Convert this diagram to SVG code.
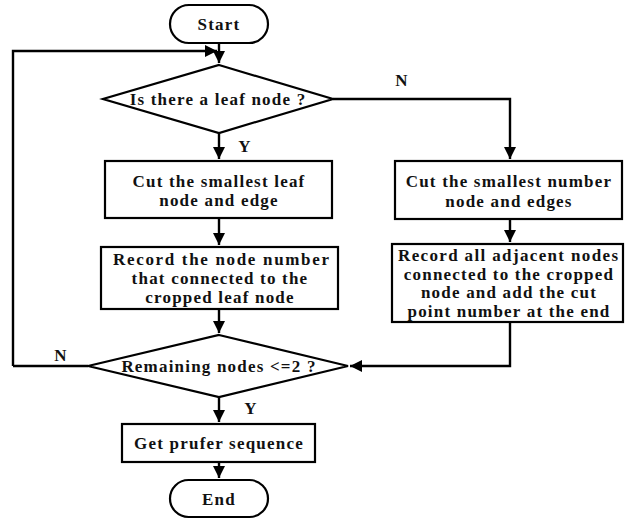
<svg xmlns="http://www.w3.org/2000/svg" width="625" height="520" viewBox="0 0 625 520">
<style>
.s{fill:#fff;stroke:#000;stroke-width:2.2}
.c{fill:none;stroke:#000;stroke-width:2.4}
text{font-family:"Liberation Serif","Times New Roman",serif;font-weight:bold;font-size:17px;letter-spacing:1.2px;fill:#111;text-anchor:middle}
text.j{letter-spacing:0}
</style>
<defs>
<marker id="a" viewBox="0 0 10 10" refX="10" refY="5" markerWidth="5" markerHeight="5" orient="auto" markerUnits="strokeWidth">
<path d="M0,0 L10,5 L0,10 Z" fill="#000"/>
</marker>
</defs>
<rect width="625" height="520" fill="#fff"/>
<g id="connectors">
<path class="c" d="M219,43 V63" marker-end="url(#a)"/>
<path class="c" d="M13,366 V51 H217" marker-end="url(#a)"/>
<path class="c" d="M219,133 V159" marker-end="url(#a)"/>
<path class="c" d="M333,99 H510 V159" marker-end="url(#a)"/>
<path class="c" d="M219,218 V245" marker-end="url(#a)"/>
<path class="c" d="M510,219 V242" marker-end="url(#a)"/>
<path class="c" d="M219,309 V333" marker-end="url(#a)"/>
<path class="c" d="M510,322 V366 H350" marker-end="url(#a)"/>
<path class="c" d="M88,366 H13"/>
<path class="c" d="M219,397 V422" marker-end="url(#a)"/>
<path class="c" d="M219,462 V478" marker-end="url(#a)"/>
<text x="245" y="152">Y</text>
<text x="402" y="86">N</text>
<text x="61" y="361">N</text>
<text x="251" y="414">Y</text>
</g>
<g id="start">
<rect class="s" x="170" y="5" width="98" height="38" rx="19"/>
<text x="219" y="30">Start</text>
</g>
<g id="d1">
<polygon class="s" points="219,65 333,99 219,133 103,99"/>
<text x="218" y="105">Is there a leaf node ?</text>
</g>
<g id="b1">
<rect class="s" x="105" y="161" width="227" height="57"/>
<text x="219" y="187">Cut the smallest leaf</text>
<text x="219" y="206">node and edge</text>
</g>
<g id="b2">
<rect class="s" x="101" y="247" width="237" height="62"/>
<text class="j" x="221" y="265" textLength="216" lengthAdjust="spacing">Record the node number</text>
<text x="220" y="284">that connected to the</text>
<text x="220" y="303">cropped leaf node</text>
</g>
<g id="b3">
<rect class="s" x="395" y="161" width="227" height="58"/>
<text x="509" y="187">Cut the smallest number</text>
<text x="509" y="207">node and edges</text>
</g>
<g id="b4">
<rect class="s" x="392" y="244" width="231" height="78"/>
<text class="j" x="508" y="261" textLength="220" lengthAdjust="spacing">Record all adjacent nodes</text>
<text x="509" y="280">connected to the cropped</text>
<text x="509" y="298">node and add the cut</text>
<text x="509" y="317">point number at the end</text>
</g>
<g id="d2">
<polygon class="s" points="219,335 348,366 219,397 88,366"/>
<text x="219" y="372">Remaining nodes &lt;=2 ?</text>
</g>
<g id="b5">
<rect class="s" x="122" y="424" width="193" height="38"/>
<text x="219" y="449">Get prufer sequence</text>
</g>
<g id="end">
<rect class="s" x="170" y="480" width="98" height="37" rx="18.5"/>
<text x="219" y="505">End</text>
</g>
</svg>
